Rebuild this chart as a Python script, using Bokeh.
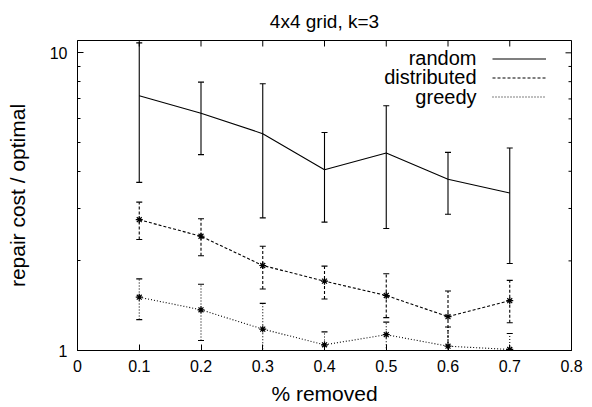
import math
from bokeh.plotting import figure
from bokeh.models import (FixedTicker, PrintfTickFormatter, Whisker,
                          TeeHead, ColumnDataSource, Legend, LegendItem, Label, Range1d)
from bokeh.embed import file_html
from bokeh.resources import INLINE

# ---- data ----
removed = [0.1, 0.2, 0.3, 0.4, 0.5, 0.6, 0.7]

random_mean = [7.17, 6.27, 5.35, 4.05, 4.61, 3.76, 3.38]
random_hi = [10.8, 7.97, 7.87, 5.40, 6.64, 4.63, 4.79]
random_lo = [3.67, 4.55, 2.79, 2.70, 2.57, 2.87, 1.96]

dist_mean = [2.75, 2.42, 1.93, 1.71, 1.53, 1.30, 1.47]
dist_hi = [3.15, 2.77, 2.24, 1.92, 1.81, 1.585, 1.72]
dist_lo = [2.36, 2.08, 1.61, 1.49, 1.29, 0.98, 1.24]

greedy_mean = [1.51, 1.37, 1.18, 1.045, 1.13, 1.034, 1.008]
greedy_hi = [1.74, 1.67, 1.44, 1.155, 1.245, 1.20, 1.14]
greedy_lo = [1.27, 1.08, 0.92, 0.94, 0.95, 0.90, 0.88]

title_text = "4x4 grid, k=3"
series_names = ["random", "distributed", "greedy"]
x_ticks = [0, 0.1, 0.2, 0.3, 0.4, 0.5, 0.6, 0.7, 0.8]
y_major = [1, 10]
y_minor = [2, 3, 4, 5, 6, 7, 8, 9]
x_lim = (0, 0.8)
y_lim = (1, 11)

FONT = "Liberation Sans"
W, H = 592, 407
BL, BR, BT, BB = 77, 21, 40, 56

p = figure(width=W, height=H, y_axis_type="log", title=title_text,
           x_range=Range1d(*x_lim), y_range=Range1d(*y_lim),
           output_backend="svg", toolbar_location=None,
           min_border_left=BL, min_border_right=BR, min_border_top=BT, min_border_bottom=BB)

p.title.align = "center"
p.title.vertical_align = "top"
p.title.standoff = 14
p.title.text_font = FONT
p.title.text_font_size = "19px"
p.title.text_font_style = "normal"
p.title.text_color = "black"

p.grid.visible = False
p.outline_line_color = "black"
p.outline_line_width = 1


def style_axis(ax):
    ax.axis_line_color = "black"
    ax.major_tick_in = 6
    ax.major_tick_out = 0
    ax.minor_tick_in = 3
    ax.minor_tick_out = 0
    ax.major_tick_line_color = "black"
    ax.minor_tick_line_color = "black"
    ax.major_label_text_font = FONT
    ax.major_label_text_color = "black"
    ax.major_label_text_font_size = "16px"
    ax.axis_label_text_font = FONT
    ax.axis_label_text_font_size = "21px"
    ax.axis_label_text_font_style = "normal"
    ax.axis_label_text_color = "black"


xa = p.xaxis[0]
xa.ticker = FixedTicker(ticks=x_ticks, minor_ticks=[])
xa.formatter = PrintfTickFormatter(format="%g")
style_axis(xa)
xa.major_label_standoff = 9
xa.axis_label = "% removed"
xa.axis_label_standoff = 7

ya = p.yaxis[0]
ya.ticker = FixedTicker(ticks=y_major, minor_ticks=y_minor)
ya.formatter = PrintfTickFormatter(format="%d")
style_axis(ya)
ya.major_label_standoff = 10
ya.axis_label = "repair cost / optimal"
ya.axis_label_standoff = 18

# mirror ticks on the top and right edges (inward), clipped by the frame
p.scatter(x_ticks, [y_lim[1]] * len(x_ticks), marker="dash", angle=math.pi / 2,
          size=12, line_color="black", line_width=1)
p.scatter([x_lim[1]] * len(y_major), y_major, marker="dash", size=12,
          line_color="black", line_width=1)
p.scatter([x_lim[1]] * len(y_minor), y_minor, marker="dash", size=6,
          line_color="black", line_width=1)

# ---- series ----
dashes = ["solid", "3 2", "1 2"]
means = [random_mean, dist_mean, greedy_mean]
his = [random_hi, dist_hi, greedy_hi]
los = [random_lo, dist_lo, greedy_lo]
line_renderers = []
for i in range(3):
    src = ColumnDataSource(dict(x=removed, y=means[i], hi=his[i], lo=los[i]))
    w = Whisker(source=src, base="x", upper="hi", lower="lo",
                line_color="black", line_width=1.1, line_dash=dashes[i],
                upper_head=TeeHead(size=6, line_color="black", line_width=1.1),
                lower_head=TeeHead(size=6, line_color="black", line_width=1.1))
    p.add_layout(w)
    r = p.line("x", "y", source=src, line_color="black", line_width=1.1, line_dash=dashes[i])
    line_renderers.append(r)
    if i > 0:
        p.scatter("x", "y", source=src, marker="asterisk", size=7,
                  line_color="black", line_width=1.2)

legend = Legend(items=[LegendItem(label=" ", renderers=[r]) for r in line_renderers],
                location=(415, 244), orientation="vertical",
                glyph_width=54, glyph_height=19, label_width=1, label_height=19,
                label_standoff=0, padding=0, spacing=0, margin=0,
                border_line_alpha=0, background_fill_alpha=0,
                label_text_font_size="12px")
p.add_layout(legend)

for k, name in enumerate(series_names):
    p.add_layout(Label(x=399, y=293 - 19.5 * k, x_units="screen", y_units="screen",
                       text=name, text_align="right", text_baseline="middle",
                       text_font=FONT, text_font_size="20px", text_color="black"))

open("out.html", "w").write(file_html(p, INLINE))
